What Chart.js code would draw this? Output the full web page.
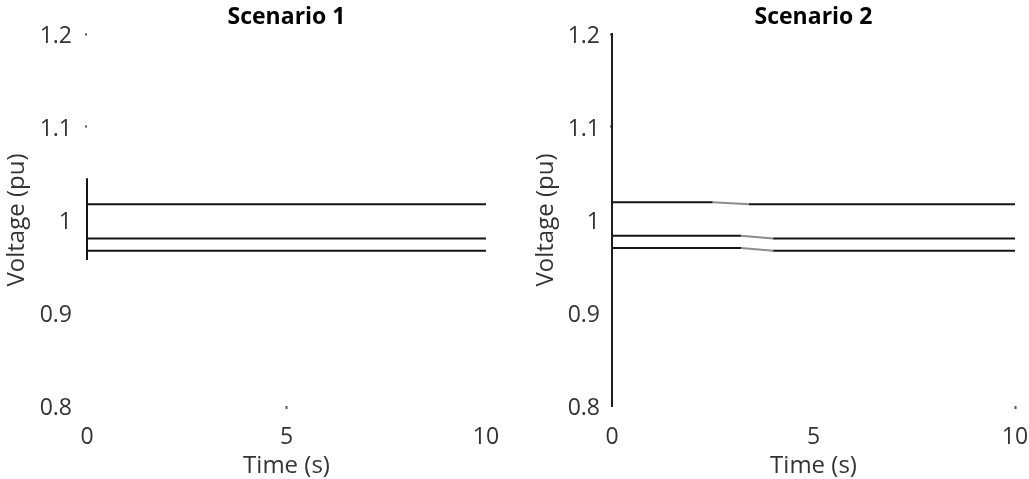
<!DOCTYPE html>
<html>
<head>
<meta charset="utf-8">
<script src="https://cdn.jsdelivr.net/npm/chart.js@4.4.1/dist/chart.umd.min.js"></script>
<style>
  html, body { margin: 0; padding: 0; background: #fff; }
  #wrap { position: relative; width: 1029px; height: 479px; }
  canvas { position: absolute; top: 0; }
  #scenario1 { left: 0; }
  #scenario2 { left: 525px; }
</style>
</head>
<body>
<div id="wrap">
  <canvas id="scenario1" width="515" height="479"></canvas>
  <canvas id="scenario2" width="504" height="479"></canvas>
</div>
<script>
const yTicks = [0.8, 0.9, 1.0, 1.1, 1.2];
const xTicks = [0, 5, 10];

// Scenario 1: flat bus voltages, plus the initialisation step at t = 0
const timeS1 = [0, 10];
const bus1S1 = [1.017, 1.017];
const bus2S1 = [0.980, 0.980];
const bus3S1 = [0.967, 0.967];
const stepTimeS1 = [0, 0];
const stepS1 = [1.045, 0.957];

// Scenario 2: voltages settle slightly between 2.5 s and 4 s
const timeBus1S2 = [0, 2.5, 3.4, 10];
const bus1S2 = [1.019, 1.019, 1.017, 1.017];
const timeBus23S2 = [0, 3.2, 4.0, 10];
const bus2S2 = [0.983, 0.983, 0.980, 0.980];
const bus3S2 = [0.970, 0.970, 0.967, 0.967];

const FONT = "'Open Sans', sans-serif";
const INK = "#141414";
const TEXT = "#333";

function toPoints(xs, ys) {
    return xs.map((x, i) => ({ x, y: ys[i] }));
}

function trace(xs, ys) {
    return {
        data: toPoints(xs, ys),
        borderColor: INK,
        borderWidth: 2,
        pointRadius: 0,
        tension: 0,
        clip: 4,
        // sloped pieces render lighter
        segment: {
            borderColor: (c) => (Math.abs(c.p0.parsed.y - c.p1.parsed.y) > 1e-6 && c.p0.parsed.x !== c.p1.parsed.x ? "#8c8c8c" : INK),
        },
    };
}

function near(list, v) {
    return list.some((t) => Math.abs(t - v) < 1e-6);
}

function makeChart(canvasId, title, datasets, cfg) {
    const ctx = document.getElementById(canvasId).getContext("2d");
    return new Chart(ctx, {
        type: "line",
        data: { datasets },
        options: {
            responsive: false,
            animation: false,
            layout: { padding: { left: 0, right: cfg.padRight, top: 0, bottom: 0 } },
            plugins: {
                legend: { display: false },
                tooltip: { enabled: false },
                title: {
                    display: true,
                    text: title,
                    fullSize: false,
                    color: "#000",
                    font: { family: FONT, size: 23, weight: "bold" },
                    padding: { top: 4, bottom: 2.4 },
                },
            },
            scales: {
                x: {
                    type: "linear",
                    min: 0,
                    max: 10,
                    afterBuildTicks: (s) => { s.ticks = xTicks.map((v) => ({ value: v })); },
                    afterFit: (s) => {
                        s.height = 73;
                        // the layout padding already leaves room for the end labels
                        s.paddingLeft = 0;
                        s.paddingRight = 0;
                    },
                    border: { display: false },
                    grid: {
                        drawOnChartArea: false,
                        tickLength: 3,
                        tickWidth: 2,
                        tickColor: (c) => (c.tick && near(cfg.xMarks, c.tick.value) ? "#555" : "rgba(0,0,0,0)"),
                    },
                    ticks: {
                        color: TEXT,
                        padding: 15,
                        maxRotation: 0,
                        font: { family: FONT, size: 23 },
                    },
                    title: {
                        display: true,
                        text: "Time (s)",
                        color: TEXT,
                        font: { family: FONT, size: 24, lineHeight: 1.1 },
                        padding: { top: 0, bottom: 0 },
                    },
                },
                y: {
                    min: 0.8,
                    max: 1.2,
                    afterBuildTicks: (s) => { s.ticks = yTicks.map((v) => ({ value: v })); },
                    afterFit: (s) => { s.width = 87; },
                    border: { display: cfg.yBorder, color: "#1e1e1e", width: 2 },
                    grid: {
                        drawOnChartArea: false,
                        tickLength: 2,
                        tickWidth: 2,
                        tickColor: (c) => (c.tick && near(cfg.yMarks, c.tick.value) ? "#555" : "rgba(0,0,0,0)"),
                    },
                    ticks: {
                        color: TEXT,
                        padding: cfg.yTickPad,
                        labelOffset: 2,
                        font: { family: FONT, size: 23 },
                        callback: (v) => String(Number(v.toFixed(1))),
                    },
                    title: {
                        display: true,
                        text: "Voltage (pu)",
                        color: TEXT,
                        font: { family: FONT, size: 24 },
                        padding: { top: cfg.yTitlePad, bottom: 0 },
                    },
                },
            },
        },
    });
}

makeChart("scenario1", "Scenario 1", [
    trace(timeS1, bus1S1),
    trace(timeS1, bus2S1),
    trace(timeS1, bus3S1),
    trace(stepTimeS1, stepS1),
], { padRight: 29, yBorder: false, yTickPad: 13, yTitlePad: 3, xMarks: [5], yMarks: [1.1, 1.2] });

makeChart("scenario2", "Scenario 2", [
    trace(timeBus1S2, bus1S2),
    trace(timeBus23S2, bus2S2),
    trace(timeBus23S2, bus3S2),
], { padRight: 14, yBorder: true, yTickPad: 10, yTitlePad: 7, xMarks: [10], yMarks: [1.1, 1.2] });
</script>
</body>
</html>
